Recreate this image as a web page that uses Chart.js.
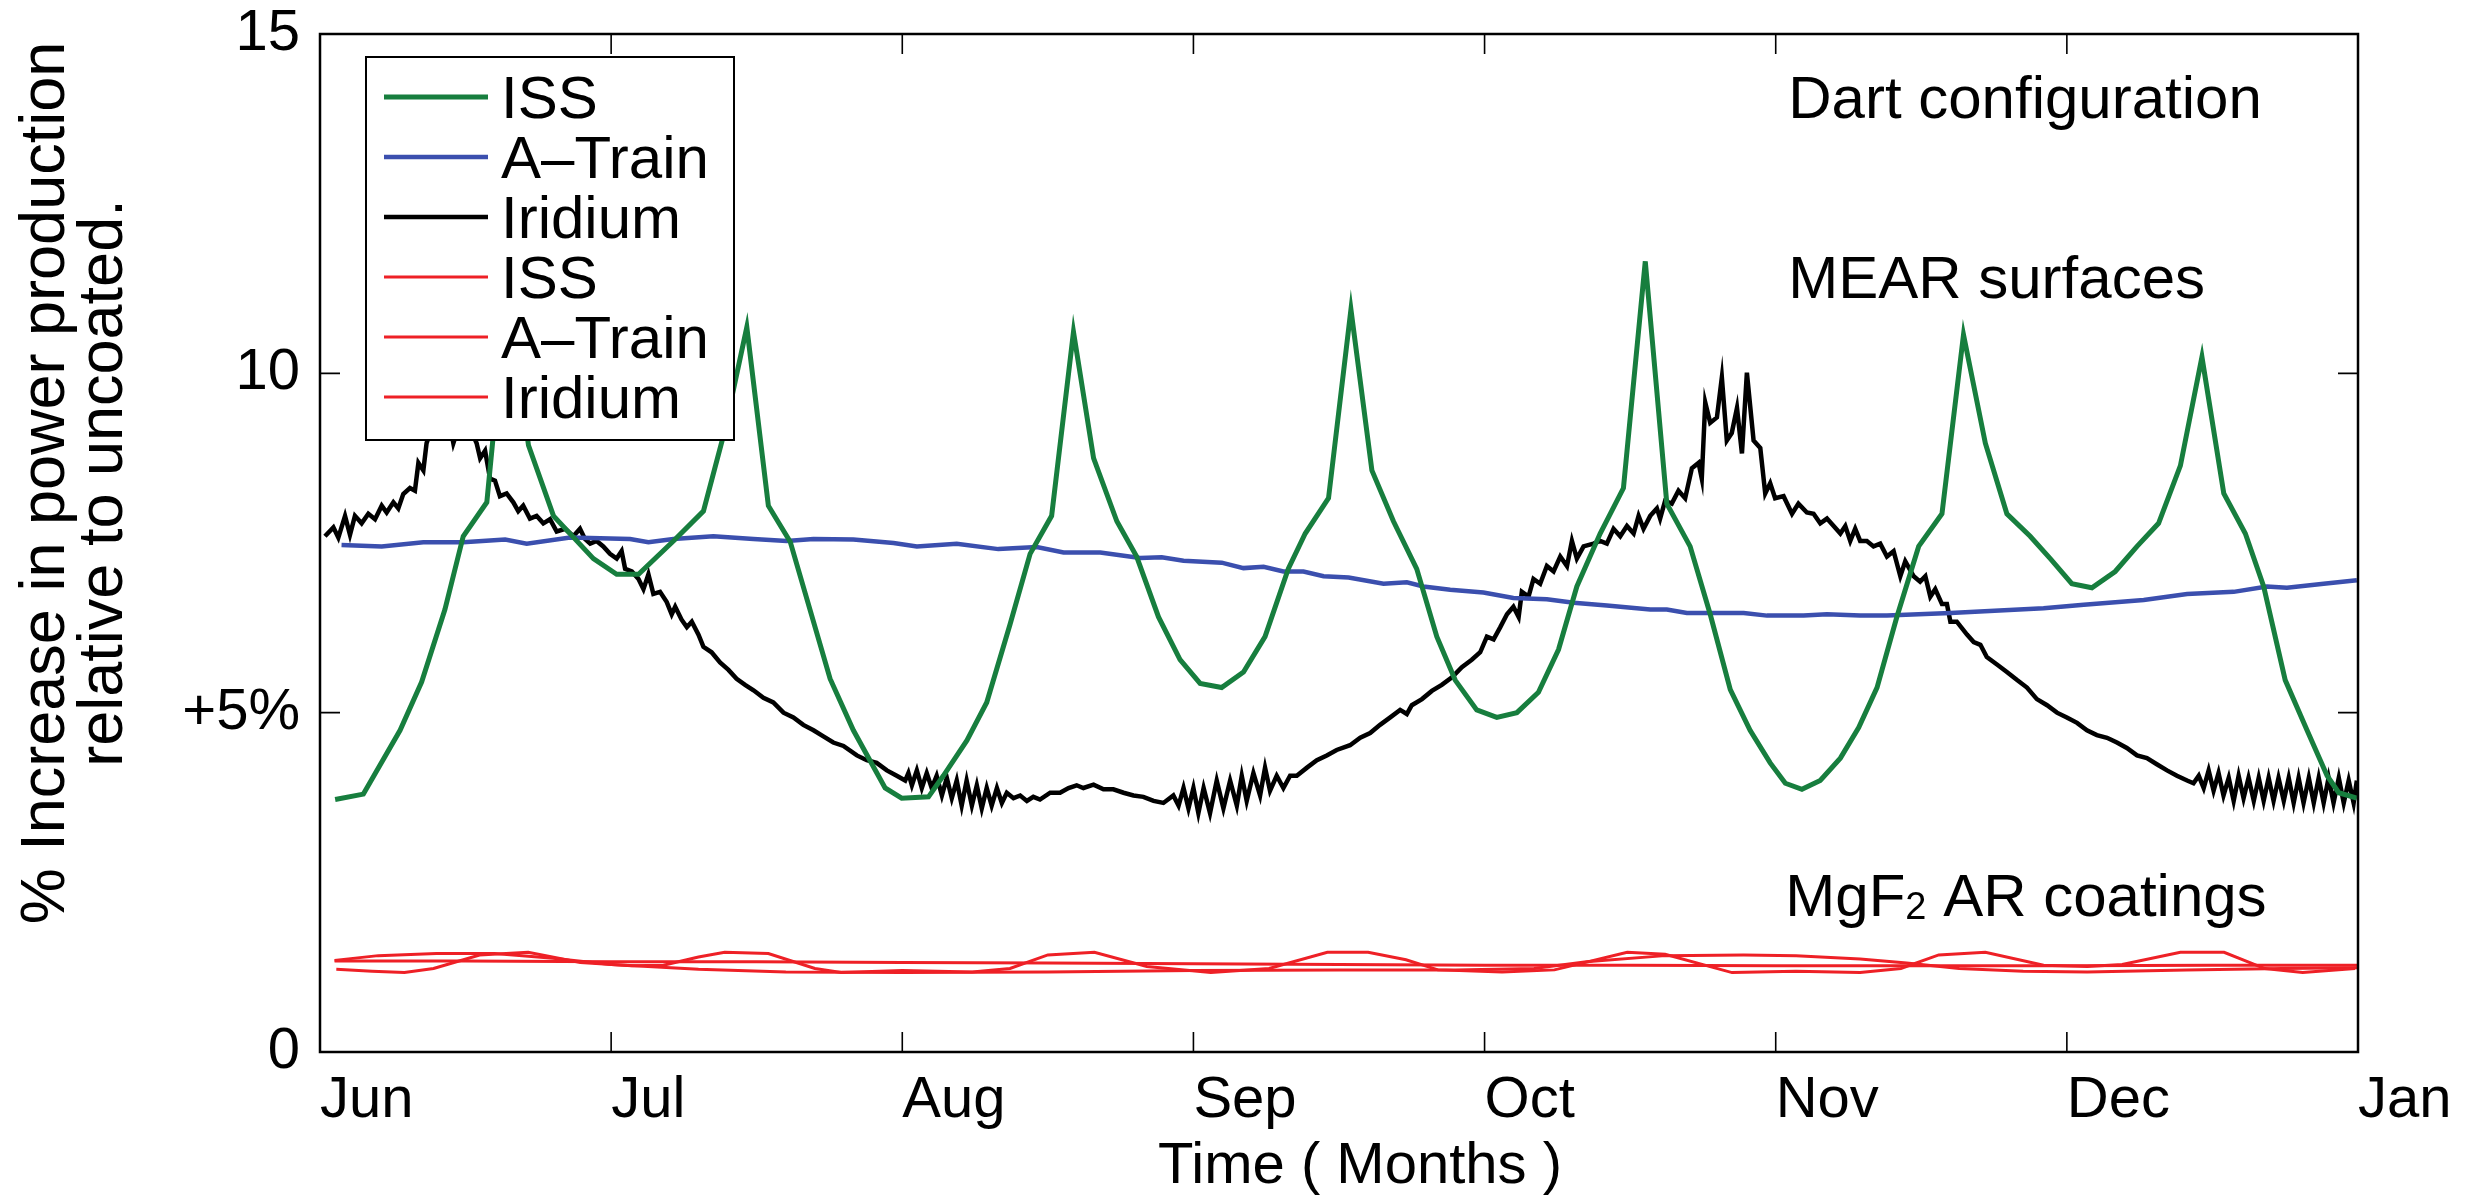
<!DOCTYPE html>
<html>
<head>
<meta charset="utf-8">
<title>MEAR vs MgF2 power gain</title>
<script src="https://cdn.jsdelivr.net/npm/chart.js"></script>
<style>
  html, body { margin: 0; padding: 0; background: #fff; }
  #plot { display: block; }
</style>
</head>
<body>
<canvas id="plot" width="2466" height="1195"></canvas>
<script>
// ---- axis labels ----
const months = ['Jun', 'Jul', 'Aug', 'Sep', 'Oct', 'Nov', 'Dec', 'Jan'];
const yTicks = [0, 5, 10, 15];
const yTickText = ['0', '+5%', '10', '15'];
const seriesNames = ['ISS', 'A\u2013Train', 'Iridium', 'ISS', 'A\u2013Train', 'Iridium'];

// ---- series, [month, % gain] (month 0 = 1 Jun) ----
// Dart configuration, MEAR surfaces
const issMear = [
  [0.052,3.72],[0.149,3.80],[0.275,4.74],[0.349,5.45],[0.429,6.52],[0.492,7.60],[0.573,8.10],[0.645,11.3],[0.716,8.94],[0.802,7.90],
  [0.939,7.27],[1.019,7.04],[1.094,7.04],[1.214,7.53],[1.317,7.97],[1.388,9.12],[1.466,10.68],[1.540,8.05],[1.615,7.52],[1.752,5.50],
  [1.832,4.74],[1.941,3.89],[1.998,3.74],[2.090,3.76],[2.141,4.07],[2.222,4.59],[2.290,5.15],[2.370,6.30],[2.439,7.34],[2.513,7.90],
  [2.588,10.61],[2.657,8.75],[2.737,7.82],[2.805,7.30],[2.880,6.41],[2.954,5.78],[3.023,5.43],[3.097,5.37],[3.172,5.60],[3.246,6.12],
  [3.326,7.12],[3.384,7.64],[3.464,8.16],[3.541,10.94],[3.613,8.57],[3.687,7.82],[3.767,7.12],[3.836,6.12],[3.899,5.48],[3.973,5.04],
  [4.042,4.93],[4.111,5.00],[4.185,5.30],[4.254,5.93],[4.317,6.86],[4.397,7.64],[4.477,8.31],[4.552,11.65],[4.626,8.08],[4.706,7.45],
  [4.775,6.45],[4.844,5.34],[4.912,4.74],[4.981,4.26],[5.033,3.96],[5.090,3.87],[5.153,4.00],[5.222,4.33],[5.285,4.78],[5.348,5.37],
  [5.416,6.41],[5.491,7.45],[5.571,7.93],[5.645,10.57],[5.720,8.97],[5.794,7.93],[5.874,7.60],[5.943,7.27],[6.017,6.90],[6.086,6.84],
  [6.166,7.08],[6.241,7.45],[6.315,7.79],[6.390,8.64],[6.464,10.24],[6.539,8.23],[6.613,7.64],[6.676,6.86],[6.750,5.48],[6.825,4.74],
  [6.894,4.07],[6.934,3.82],[6.996,3.74]
];

const aTrainMear = [
  [0.074,7.47],[0.212,7.45],[0.355,7.51],[0.492,7.51],[0.636,7.55],[0.710,7.49],[0.859,7.58],[1.065,7.56],[1.128,7.51],[1.214,7.56],
  [1.351,7.60],[1.489,7.56],[1.603,7.53],[1.695,7.56],[1.832,7.55],[1.970,7.50],[2.050,7.45],[2.187,7.49],[2.330,7.41],[2.462,7.44],
  [2.554,7.36],[2.680,7.36],[2.817,7.28],[2.891,7.29],[2.966,7.24],[3.097,7.21],[3.172,7.13],[3.241,7.15],[3.309,7.08],[3.378,7.08],
  [3.447,7.01],[3.533,6.99],[3.653,6.90],[3.733,6.92],[3.790,6.86],[3.882,6.81],[3.996,6.77],[4.099,6.69],[4.214,6.67],[4.306,6.62],
  [4.420,6.58],[4.569,6.52],[4.626,6.52],[4.695,6.47],[4.798,6.47],[4.890,6.47],[4.970,6.43],[5.096,6.43],[5.176,6.45],[5.290,6.43],
  [5.382,6.43],[5.600,6.47],[5.920,6.54],[6.058,6.59],[6.264,6.66],[6.413,6.75],[6.573,6.78],[6.687,6.86],[6.756,6.84],[6.882,6.90],
  [6.996,6.95]
];

const iridiumMear = [
  [0.017,7.60],[0.046,7.73],[0.063,7.58],[0.086,7.90],[0.103,7.62],[0.120,7.90],[0.143,7.79],[0.166,7.93],[0.189,7.85],[0.212,8.05],
  [0.229,7.95],[0.252,8.10],[0.269,8.01],[0.286,8.22],[0.309,8.31],[0.326,8.27],[0.338,8.68],[0.355,8.57],[0.366,8.97],[0.401,9.42],
  [0.435,9.49],[0.458,8.97],[0.492,9.42],[0.538,8.97],[0.550,8.75],[0.567,8.86],[0.584,8.45],[0.601,8.42],[0.618,8.19],[0.641,8.23],
  [0.664,8.10],[0.681,7.97],[0.698,8.05],[0.721,7.86],[0.744,7.90],[0.767,7.79],[0.790,7.85],[0.813,7.67],[0.842,7.71],[0.870,7.60],
  [0.893,7.71],[0.910,7.56],[0.928,7.49],[0.950,7.53],[0.973,7.45],[0.996,7.34],[1.019,7.27],[1.036,7.38],[1.048,7.12],[1.071,7.08],
  [1.094,6.97],[1.111,6.82],[1.128,7.04],[1.145,6.75],[1.168,6.78],[1.191,6.63],[1.208,6.45],[1.220,6.56],[1.242,6.37],[1.260,6.26],
  [1.277,6.34],[1.300,6.15],[1.317,5.97],[1.345,5.89],[1.374,5.74],[1.403,5.63],[1.431,5.50],[1.460,5.41],[1.489,5.33],[1.523,5.22],
  [1.557,5.15],[1.592,5.00],[1.626,4.93],[1.660,4.82],[1.695,4.74],[1.729,4.65],[1.763,4.56],
  [1.798,4.51],[1.844,4.37],[1.878,4.30],[1.912,4.26],[1.947,4.15],[1.981,4.07],[2.010,4.00],[2.021,4.11],[2.033,3.93],[2.050,4.15],
  [2.067,3.89],[2.084,4.11],[2.101,3.89],[2.118,4.07],[2.136,3.78],[2.153,4.04],[2.170,3.74],[2.187,4.00],[2.204,3.63],[2.221,4.00],
  [2.239,3.63],[2.256,3.93],[2.273,3.59],[2.290,3.89],[2.307,3.63],[2.325,3.89],[2.342,3.67],[2.359,3.82],[2.382,3.74],[2.405,3.78],
  [2.428,3.70],[2.450,3.76],[2.473,3.72],[2.508,3.82],[2.542,3.82],[2.571,3.89],[2.599,3.93],[2.622,3.89],[2.657,3.94],[2.691,3.87],
  [2.725,3.87],[2.760,3.82],[2.794,3.78],[2.828,3.76],[2.863,3.70],[2.897,3.67],[2.931,3.78],[2.949,3.63],[2.966,3.89],[2.983,3.59],
  [3.000,3.89],[3.017,3.52],[3.035,3.89],[3.057,3.52],[3.080,4.00],[3.103,3.59],[3.126,4.00],[3.149,3.63],[3.166,4.07],[3.183,3.70],
  [3.206,4.11],[3.229,3.78],[3.246,4.19],[3.263,3.85],[3.286,4.07],[3.309,3.89],[3.332,4.07],[3.355,4.07],[3.390,4.19],[3.424,4.30],
  [3.458,4.37],[3.492,4.45],
  [3.538,4.52],[3.573,4.63],[3.607,4.70],[3.641,4.82],[3.676,4.93],[3.710,5.04],[3.733,4.98],[3.750,5.11],[3.785,5.20],[3.819,5.32],
  [3.853,5.41],[3.888,5.52],[3.922,5.67],[3.956,5.78],[3.985,5.89],[4.008,6.12],[4.031,6.08],[4.054,6.26],[4.077,6.45],[4.099,6.56],
  [4.117,6.41],[4.128,6.78],[4.151,6.71],[4.168,6.97],[4.191,6.90],[4.214,7.16],[4.237,7.08],[4.260,7.30],[4.283,7.16],[4.300,7.53],
  [4.317,7.27],[4.340,7.45],[4.374,7.49],[4.397,7.53],[4.420,7.49],[4.443,7.71],[4.466,7.60],[4.489,7.75],[4.512,7.64],[4.529,7.90],
  [4.546,7.71],[4.569,7.90],[4.592,8.01],[4.603,7.86],[4.620,8.12],[4.643,8.08],[4.666,8.27],[4.689,8.16],[4.712,8.60],[4.735,8.68],
  [4.746,8.45],[4.758,9.57],[4.775,9.27],[4.798,9.35],[4.815,9.94],[4.832,9.01],[4.849,9.12],[4.867,9.49],[4.884,8.82],[4.901,10.01],
  [4.924,9.01],[4.947,8.90],[4.964,8.23],[4.981,8.38],[4.998,8.16],[5.027,8.19],[5.056,7.93],[5.078,8.08],[5.107,7.95],[5.130,7.93],
  [5.153,7.79],[5.176,7.86],[5.199,7.75],[5.222,7.64],[5.239,7.75],[5.256,7.53],[5.273,7.71],
  [5.290,7.53],[5.313,7.53],[5.336,7.45],[5.359,7.49],[5.382,7.30],[5.405,7.38],[5.428,7.01],[5.445,7.23],[5.474,7.01],[5.496,6.93],
  [5.514,7.01],[5.531,6.71],[5.548,6.82],[5.571,6.60],[5.588,6.60],[5.600,6.34],[5.622,6.34],[5.657,6.15],[5.680,6.04],[5.703,6.00],
  [5.725,5.82],[5.760,5.71],[5.794,5.60],[5.829,5.48],[5.863,5.37],[5.897,5.20],[5.932,5.11],[5.966,5.00],[6.000,4.93],[6.035,4.85],
  [6.069,4.74],[6.103,4.67],[6.138,4.63],[6.172,4.56],[6.206,4.48],[6.241,4.37],[6.275,4.33],[6.309,4.24],[6.344,4.15],[6.378,4.07],
  [6.413,4.00],[6.435,3.96],[6.453,4.07],[6.470,3.89],[6.487,4.15],[6.504,3.85],[6.521,4.11],[6.538,3.78],[6.556,4.04],[6.573,3.70],
  [6.590,4.07],[6.607,3.74],[6.624,4.04],[6.642,3.70],[6.659,4.04],[6.676,3.70],[6.693,4.04],[6.710,3.70],[6.727,4.04],[6.745,3.70],
  [6.762,4.04],[6.779,3.67],[6.796,4.04],[6.813,3.67],[6.831,4.04],[6.848,3.67],[6.865,4.04],[6.882,3.67],[6.899,4.04],[6.916,3.67],
  [6.934,4.04],[6.951,3.67],[6.968,4.00],[6.985,3.67],[6.996,4.00]
];

// MgF2 AR coatings
const issMgf2 = [
  [0.056,1.22],[0.179,1.19],[0.290,1.17],[0.390,1.23],[0.548,1.43],[0.715,1.47],[0.894,1.32],[1.070,1.27],[1.180,1.28],[1.300,1.40],
  [1.390,1.47],[1.540,1.45],[1.700,1.23],[1.790,1.17],[2.000,1.20],[2.240,1.18],[2.370,1.23],[2.500,1.43],[2.660,1.47],[2.840,1.26],
  [3.060,1.17],[3.260,1.23],[3.460,1.47],[3.600,1.47],[3.730,1.36],[3.840,1.21],[4.060,1.18],[4.240,1.21],[4.490,1.47],[4.620,1.44],
  [4.850,1.17],[5.070,1.19],[5.290,1.17],[5.430,1.23],[5.560,1.43],[5.720,1.47],[5.920,1.28],[6.070,1.26],[6.190,1.29],[6.390,1.47],
  [6.540,1.47],[6.680,1.23],[6.810,1.17],[6.990,1.23]
];

const aTrainMgf2 = [
  [0.050,1.34],[0.500,1.34],[1.000,1.33],[1.500,1.33],[2.000,1.32],[2.500,1.31],[3.000,1.30],[3.500,1.29],
  [4.000,1.28],[4.500,1.28],[5.000,1.27],[5.500,1.27],[6.000,1.27],[6.500,1.28],[7.000,1.28]
];

const iridiumMgf2 = [
  [0.050,1.35],[0.200,1.42],[0.400,1.45],[0.600,1.45],[0.800,1.38],[1.000,1.29],[1.300,1.22],[1.600,1.18],[2.000,1.17],[2.500,1.18],
  [3.000,1.20],[3.500,1.21],[3.900,1.21],[4.170,1.23],[4.350,1.33],[4.620,1.42],[4.890,1.43],[5.070,1.42],[5.290,1.37],[5.450,1.31],
  [5.630,1.23],[5.850,1.19],[6.070,1.18],[6.410,1.21],[6.740,1.23],[7.000,1.24]
];

const FONT = '"Liberation Sans", Arial, Helvetica, sans-serif';
const GREEN = '#177e3e';
const BLUE = '#3b4fae';
const BLACK = '#000000';
const RED = '#ee2026';

const toPoints = (pairs) => pairs.map(([x, y]) => ({ x, y }));

function lineSet(label, pairs, color, width) {
  return {
    label,
    data: toPoints(pairs),
    borderColor: color,
    backgroundColor: color,
    borderWidth: width,
    pointRadius: 0,
    tension: 0,
    fill: false
  };
}

// frame, inward ticks, axis titles, legend box and the three notes
const boxedAxes = {
  id: 'boxedAxes',
  afterDatasetsDraw(chart, _args, opts) {
    const { ctx, chartArea: a, scales: { x, y } } = chart;
    ctx.save();
    ctx.strokeStyle = '#000';
    ctx.fillStyle = '#000';

    // ticks pointing into the plot, on all four sides
    ctx.lineWidth = 1.6;
    ctx.beginPath();
    x.ticks.forEach(t => {
      const px = x.getPixelForValue(t.value);
      ctx.moveTo(px, a.bottom); ctx.lineTo(px, a.bottom - opts.tickLen);
      ctx.moveTo(px, a.top); ctx.lineTo(px, a.top + opts.tickLen);
    });
    y.ticks.forEach(t => {
      const py = y.getPixelForValue(t.value);
      ctx.moveTo(a.left, py); ctx.lineTo(a.left + opts.tickLen, py);
      ctx.moveTo(a.right, py); ctx.lineTo(a.right - opts.tickLen, py);
    });
    ctx.stroke();

    ctx.lineWidth = 2.5;
    ctx.strokeRect(a.left, a.top, a.right - a.left, a.bottom - a.top);

    // y title, two rotated lines
    ctx.font = `${opts.yTitle.size}px ${FONT}`;
    ctx.textAlign = 'center';
    ctx.textBaseline = 'middle';
    ctx.save();
    ctx.translate(opts.yTitle.x, opts.yTitle.y);
    ctx.rotate(-Math.PI / 2);
    opts.yTitle.lines.forEach((line, i) => ctx.fillText(line, 0, i * opts.yTitle.step));
    ctx.restore();

    // x title
    ctx.font = `${opts.xTitle.size}px ${FONT}`;
    ctx.textBaseline = 'alphabetic';
    ctx.fillText(opts.xTitle.text, (a.left + a.right) / 2 + opts.xTitle.dx, opts.xTitle.y);

    // notes inside the plot, anchored in data units
    ctx.textAlign = 'left';
    opts.notes.forEach(n => {
      let px = x.getPixelForValue(n.x);
      const py = y.getPixelForValue(n.y);
      n.parts.forEach(p => {
        ctx.font = `${p.size}px ${FONT}`;
        ctx.fillText(p.text, px, py + (p.dy || 0));
        px += ctx.measureText(p.text).width;
      });
    });

    // legend
    const L = opts.legend;
    ctx.fillStyle = '#fff';
    ctx.fillRect(L.left, L.top, L.width, L.height);
    ctx.lineWidth = 2;
    ctx.strokeRect(L.left, L.top, L.width, L.height);
    ctx.font = `${L.size}px ${FONT}`;
    chart.data.datasets.forEach((ds, i) => {
      const cy = L.firstRow + i * L.rowStep;
      ctx.strokeStyle = ds.borderColor;
      ctx.lineWidth = ds.borderWidth;
      ctx.beginPath();
      ctx.moveTo(L.left + 18, cy);
      ctx.lineTo(L.left + 122, cy);
      ctx.stroke();
      ctx.fillStyle = '#000';
      ctx.fillText(ds.label, L.left + 135, cy + 21);
    });

    ctx.restore();
  }
};

const chart = new Chart(document.getElementById('plot'), {
  type: 'line',
  data: {
    datasets: [
      lineSet(seriesNames[0], issMear, GREEN, 5),
      lineSet(seriesNames[1], aTrainMear, BLUE, 4.5),
      lineSet(seriesNames[2], iridiumMear, BLACK, 4.5),
      lineSet(seriesNames[3], issMgf2, RED, 3),
      lineSet(seriesNames[4], aTrainMgf2, RED, 3),
      lineSet(seriesNames[5], iridiumMgf2, RED, 3)
    ]
  },
  options: {
    responsive: false,
    devicePixelRatio: 1,
    animation: false,
    layout: { padding: { top: 34, right: 108, bottom: 0, left: 0 } },
    plugins: {
      legend: { display: false },
      tooltip: { enabled: false },
      boxedAxes: {
        tickLen: 20,
        yTitle: { x: 47, y: 483, step: 58, size: 63, lines: ['% Increase in power production', 'relative to uncoated.'] },
        xTitle: { text: 'Time ( Months )', dx: 21, y: 1183, size: 58 },
        notes: [
          { x: 5.043, y: 13.76, parts: [{ text: 'Dart configuration', size: 60 }] },
          { x: 5.043, y: 11.11, parts: [{ text: 'MEAR surfaces', size: 60 }] },
          { x: 5.033, y: 2.0, parts: [
            { text: 'MgF', size: 60 },
            { text: '2', size: 38, dy: 3 },
            { text: ' AR coatings', size: 60 }
          ] }
        ],
        legend: { left: 366, top: 57, width: 368, height: 383, size: 60, firstRow: 97, rowStep: 60 }
      }
    },
    scales: {
      x: {
        type: 'linear',
        min: 0,
        max: 7,
        grid: { display: false, drawTicks: false },
        border: { display: false },
        afterBuildTicks: (s) => { s.ticks = months.map((_, i) => ({ value: i })); },
        afterFit: (s) => { s.height = 143; },
        ticks: {
          autoSkip: false,
          maxRotation: 0,
          align: 'start',
          padding: 14,
          color: '#000',
          font: { family: FONT, size: 58 },
          callback: (v) => months[v]
        }
      },
      y: {
        min: 0,
        max: 15,
        grid: { display: false, drawTicks: false },
        border: { display: false },
        afterBuildTicks: (s) => { s.ticks = yTicks.map(v => ({ value: v })); },
        // fixed gutter; the top label may overhang the plot edge
        afterFit: (s) => { s.width = 320; s.paddingTop = 0; s.paddingBottom = 0; },
        ticks: {
          padding: 20,
          color: '#000',
          font: { family: FONT, size: 58 },
          callback: (v) => yTickText[yTicks.indexOf(v)]
        }
      }
    }
  },
  plugins: [boxedAxes]
});
</script>
</body>
</html>
